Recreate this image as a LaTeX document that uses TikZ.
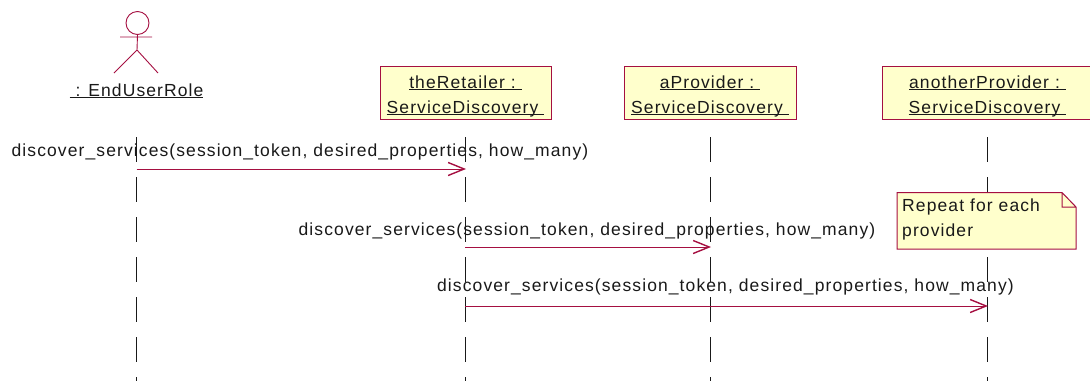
\documentclass[tikz,border=0pt]{standalone}
\usepackage{fontspec}
\setmainfont[LetterSpace=6.3]{Liberation Sans}
\usetikzlibrary{arrows.meta}
\definecolor{umlred}{RGB}{165,15,65}
\definecolor{umlfill}{RGB}{255,255,204}
\definecolor{inkline}{RGB}{25,25,25}
\newcommand{\ulbl}[1]{\underline{\smash{#1}}}
\newcommand{\toproom}{\rule{0pt}{18.5pt}}
\tikzset{
  x=1pt,y=-1pt,
  objbox/.style={draw=umlred,fill=umlfill,line width=1pt,minimum height=53pt,inner sep=0pt,align=center,
    font=\fontsize{17.5}{25}\selectfont,text=inkline},
  lifeline/.style={draw=inkline,line width=0.7pt,dash pattern=on 25pt off 15pt},
  msg/.style={draw=umlred,line width=1pt,-{Straight Barb[length=16pt,width=13pt,line width=1.4pt]}},
  msglabel/.style={font=\fontsize{17.5}{20}\selectfont,text=inkline,inner sep=0pt},
  actorline/.style={draw=umlred,line width=0.9pt}
}
\begin{document}
\begin{tikzpicture}
\useasboundingbox (0,0) rectangle (1090,381);
% actor
\node[draw=umlred,line width=0.9pt,circle,minimum size=23pt,inner sep=0pt] (head) at (137.5,23) {};
\coordinate (hip) at (137,50);
\coordinate (armL) at (120,37);
\coordinate (armR) at (152,37);
\coordinate (legL) at (114,73);
\coordinate (legR) at (158,73);
\draw[actorline] (head.south) -- (hip) (armL) -- (armR) (legL) -- (hip) -- (legR);
\node[msglabel,anchor=base] (actorlabel) at (136.5,96) {\ulbl{~: EndUserRole}};
% lifelines
\coordinate (a0) at (136.5,137); \coordinate (a1) at (136.5,381);
\coordinate (r0) at (465,137); \coordinate (r1) at (465,381);
\coordinate (p0) at (710,137); \coordinate (p1) at (710,381);
\coordinate (q0) at (987,137); \coordinate (q1) at (987,381);
\draw[lifeline] (a0) -- (a1);
\draw[lifeline] (r0) -- (r1);
\draw[lifeline] (p0) -- (p1);
\draw[lifeline] (q0) -- (q1);
% objects
\node[objbox,minimum width=171pt] (retailer) at (465.5,92.5) {\toproom\ulbl{theRetailer :~}\\\ulbl{ServiceDiscovery~}};
\node[objbox,minimum width=172pt] (aprov) at (710,92.5) {\toproom\ulbl{aProvider :~}\\\ulbl{ServiceDiscovery~}};
\node[objbox,minimum width=210pt] (another) at (987.5,92.5) {\toproom\ulbl{anotherProvider :~}\\\ulbl{ServiceDiscovery~}};
% note
\coordinate (nA) at (897,192.5); \coordinate (nB) at (1062,192.5); \coordinate (nC) at (1076,207);
\coordinate (nD) at (1076,249); \coordinate (nE) at (897,249); \coordinate (nF) at (1062,207);
\fill[umlfill] (nA) -- (nB) -- (nC) -- (nD) -- (nE) -- cycle;
\draw[umlred,line width=1pt] (nA) -- (nB) -- (nC) -- (nD) -- (nE) -- cycle (nB) -- (nF) -- (nC);
\node[msglabel,anchor=base west] (note1) at (902,211) {Repeat for each};
\node[msglabel,anchor=base west] (note2) at (902,236.5) {provider};
% messages
\coordinate (m1a) at (136.5,169); \coordinate (m1b) at (466,169);
\coordinate (m2a) at (465,247); \coordinate (m2b) at (711,247);
\coordinate (m3a) at (465,306); \coordinate (m3b) at (988,306);
\draw[msg] (m1a) -- (m1b);
\draw[msg] (m2a) -- (m2b);
\draw[msg] (m3a) -- (m3b);
\node[msglabel,anchor=base] (l1) at (300,156) {discover\_services(session\_token, desired\_properties, how\_many)};
\node[msglabel,anchor=base] (l2) at (587,235) {discover\_services(session\_token, desired\_properties, how\_many)};
\node[msglabel,anchor=base] (l3) at (725.5,291) {discover\_services(session\_token, desired\_properties, how\_many)};
\end{tikzpicture}
\end{document}
